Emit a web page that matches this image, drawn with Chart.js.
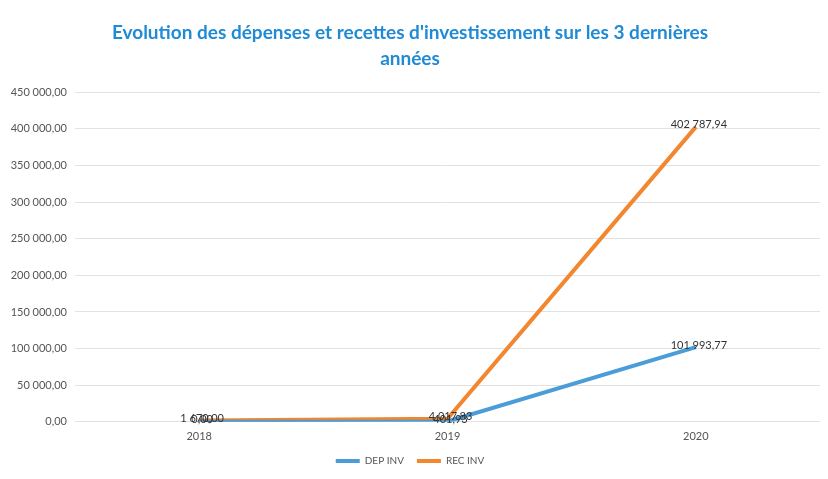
<!DOCTYPE html>
<html>
<head>
<meta charset="utf-8">
<script src="https://cdn.jsdelivr.net/npm/chart.js@4"></script>
<style>
  html, body { margin: 0; padding: 0; background: #fff; }
  #wrap { width: 828px; height: 479px; }
</style>
</head>
<body>
<div id="wrap"><canvas id="chart"></canvas></div>
<script>
const years = ['2018', '2019', '2020'];
const depInv = [0, 401.93, 101993.77];
const recInv = [1670.00, 4017.83, 402787.94];

function frNumber(v) {
    // 402787.94 -> "402 787,94"
    const parts = v.toFixed(2).split('.');
    const intPart = parts[0].replace(/\B(?=(\d{3})+(?!\d))/g, ' ');
    return intPart + ',' + parts[1];
}

// value labels drawn centred on each point, like the Excel labels
const valueLabels = {
    id: 'valueLabels',
    afterDatasetsDraw(chart) {
        const ctx = chart.ctx;
        ctx.save();
        ctx.font = '11px Lato, "DejaVu Sans", sans-serif';
        ctx.fillStyle = '#333';
        ctx.textAlign = 'center';
        ctx.textBaseline = 'middle';
        chart.data.datasets.forEach((ds, i) => {
            const meta = chart.getDatasetMeta(i);
            meta.data.forEach((pt, j) => {
                ctx.fillText(frNumber(ds.data[j]), pt.x + 3, pt.y - 2);
            });
        });
        ctx.restore();
    }
};

new Chart(document.getElementById('chart'), {
    type: 'line',
    data: {
        labels: years,
        datasets: [{
            label: 'DEP INV',
            data: depInv,
            borderColor: '#4a9dd8',
            backgroundColor: '#4a9dd8',
            borderWidth: 4,
            pointRadius: 0,
            tension: 0
        }, {
            label: 'REC INV',
            data: recInv,
            borderColor: '#f2872f',
            backgroundColor: '#f2872f',
            borderWidth: 4,
            pointRadius: 0,
            tension: 0
        }]
    },
    options: {
        responsive: true,
        maintainAspectRatio: false,
        animation: false,
        layout: { padding: { left: 0, right: 8, top: 0, bottom: 3 } },
        plugins: {
            title: {
                display: true,
                text: ["Evolution des dépenses et recettes d'investissement sur les 3 dernières", 'années'],
                color: '#1f8ad6',
                font: { family: 'Lato, "Open Sans", sans-serif', size: 19, weight: 'bold', lineHeight: 1.35 },
                padding: { top: 20, bottom: 21 }
            },
            legend: {
                position: 'bottom',
                labels: {
                    usePointStyle: true,
                    pointStyle: 'line',
                    pointStyleWidth: 24,
                    boxHeight: 4,
                    color: '#555',
                    font: { family: 'Lato, "Open Sans", sans-serif', size: 10 },
                    padding: 13
                }
            },
            tooltip: { enabled: false }
        },
        scales: {
            x: {
                offset: true,
                grid: { display: false },
                border: { display: false },
                ticks: {
                    color: '#555',
                    font: { family: 'Lato, "Open Sans", sans-serif', size: 11 },
                    padding: 0
                }
            },
            y: {
                min: 0,
                max: 450000,
                afterFit(scale) { scale.width = 75; },
                grid: { color: '#e2e2e2', drawTicks: false },
                border: { display: false },
                ticks: {
                    stepSize: 50000,
                    color: '#555',
                    font: { family: 'Lato, "Open Sans", sans-serif', size: 11 },
                    padding: 8,
                    callback: v => frNumber(v)
                }
            }
        }
    },
    plugins: [valueLabels]
});
</script>
</body>
</html>
